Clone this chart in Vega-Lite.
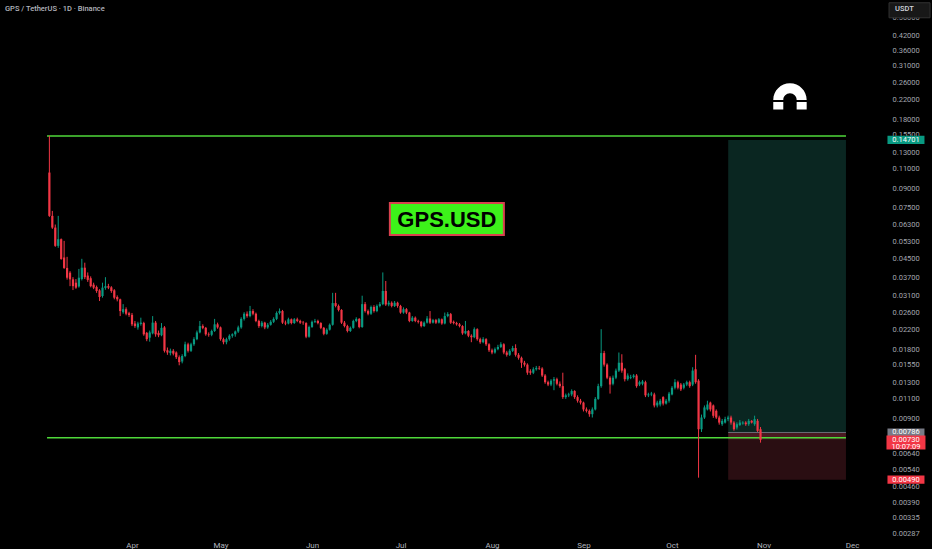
{
  "$schema": "https://vega.github.io/schema/vega-lite/v6.json",
  "description": "GPS / TetherUS daily candles on Binance, log price scale, with a long position box.",
  "width": 932,
  "height": 536,
  "padding": 0,
  "background": "#000000",
  "config": {
    "view": {"stroke": null},
    "font": "Roboto",
    "scale": {"continuousPadding": 0},
    "axisX": {
      "title": null,
      "domain": false,
      "ticks": false,
      "grid": false,
      "labelColor": "#b2b5be",
      "labelFontSize": 8,
      "labelFont": "Roboto",
      "labelPadding": 4,
      "labelFlush": false
    },
    "axisY": {
      "title": null,
      "domain": false,
      "ticks": false,
      "grid": false,
      "labelColor": "#a3a6af",
      "labelFontSize": 7.5,
      "labelFont": "Roboto",
      "labelPadding": 26,
      "labelOverlap": false,
      "labelBound": false
    }
  },
  "data": {
    "values": [
      {"d": "2025-03-04", "o": 0.106, "h": 0.153, "l": 0.068, "c": 0.0687},
      {"d": "2025-03-05", "o": 0.0687, "h": 0.0722, "l": 0.0603, "c": 0.0611},
      {"d": "2025-03-06", "o": 0.0611, "h": 0.063, "l": 0.0504, "c": 0.0509},
      {"d": "2025-03-07", "o": 0.0509, "h": 0.0687, "l": 0.0499, "c": 0.0544},
      {"d": "2025-03-08", "o": 0.0544, "h": 0.0548, "l": 0.0443, "c": 0.0446},
      {"d": "2025-03-09", "o": 0.0453, "h": 0.0535, "l": 0.0404, "c": 0.0408},
      {"d": "2025-03-10", "o": 0.0408, "h": 0.0456, "l": 0.0363, "c": 0.037},
      {"d": "2025-03-11", "o": 0.0389, "h": 0.0395, "l": 0.034, "c": 0.0364},
      {"d": "2025-03-12", "o": 0.0364, "h": 0.0372, "l": 0.0327, "c": 0.034},
      {"d": "2025-03-13", "o": 0.0352, "h": 0.0365, "l": 0.0331, "c": 0.0335},
      {"d": "2025-03-14", "o": 0.0339, "h": 0.0404, "l": 0.0335, "c": 0.037},
      {"d": "2025-03-15", "o": 0.0365, "h": 0.0447, "l": 0.036, "c": 0.0409},
      {"d": "2025-03-16", "o": 0.0409, "h": 0.043, "l": 0.0365, "c": 0.0372},
      {"d": "2025-03-17", "o": 0.0378, "h": 0.039, "l": 0.0355, "c": 0.0362},
      {"d": "2025-03-18", "o": 0.0368, "h": 0.0375, "l": 0.0336, "c": 0.034},
      {"d": "2025-03-19", "o": 0.0345, "h": 0.0352, "l": 0.033, "c": 0.0335},
      {"d": "2025-03-20", "o": 0.0337, "h": 0.0342, "l": 0.0318, "c": 0.0324},
      {"d": "2025-03-21", "o": 0.0326, "h": 0.033, "l": 0.0293, "c": 0.0305},
      {"d": "2025-03-22", "o": 0.0308, "h": 0.0352, "l": 0.0303, "c": 0.0335},
      {"d": "2025-03-23", "o": 0.0334, "h": 0.0372, "l": 0.0328, "c": 0.034},
      {"d": "2025-03-24", "o": 0.034, "h": 0.0348, "l": 0.033, "c": 0.0335},
      {"d": "2025-03-25", "o": 0.0336, "h": 0.034, "l": 0.0318, "c": 0.0324},
      {"d": "2025-03-26", "o": 0.0326, "h": 0.033, "l": 0.0298, "c": 0.0303},
      {"d": "2025-03-27", "o": 0.0305, "h": 0.031, "l": 0.0292, "c": 0.0298},
      {"d": "2025-03-28", "o": 0.0298, "h": 0.03, "l": 0.0252, "c": 0.0265},
      {"d": "2025-03-29", "o": 0.0262, "h": 0.0284, "l": 0.0258, "c": 0.027},
      {"d": "2025-03-30", "o": 0.027, "h": 0.0275, "l": 0.0254, "c": 0.0258},
      {"d": "2025-03-31", "o": 0.0259, "h": 0.0263, "l": 0.025, "c": 0.0255},
      {"d": "2025-04-01", "o": 0.0255, "h": 0.026, "l": 0.0228, "c": 0.0232},
      {"d": "2025-04-02", "o": 0.0234, "h": 0.024, "l": 0.0224, "c": 0.0228},
      {"d": "2025-04-03", "o": 0.0225, "h": 0.0238, "l": 0.022, "c": 0.0234},
      {"d": "2025-04-04", "o": 0.0233, "h": 0.0248, "l": 0.0229, "c": 0.0236},
      {"d": "2025-04-05", "o": 0.0235, "h": 0.0238, "l": 0.0207, "c": 0.021},
      {"d": "2025-04-06", "o": 0.0213, "h": 0.0215, "l": 0.0196, "c": 0.02},
      {"d": "2025-04-07", "o": 0.0203, "h": 0.0218, "l": 0.0195, "c": 0.0214},
      {"d": "2025-04-08", "o": 0.0212, "h": 0.0252, "l": 0.021, "c": 0.0236},
      {"d": "2025-04-09", "o": 0.0236, "h": 0.024, "l": 0.0205, "c": 0.021},
      {"d": "2025-04-10", "o": 0.0213, "h": 0.0218, "l": 0.0204, "c": 0.0208},
      {"d": "2025-04-11", "o": 0.0208, "h": 0.0235, "l": 0.0206, "c": 0.0224},
      {"d": "2025-04-12", "o": 0.0225, "h": 0.0228, "l": 0.0175, "c": 0.0178},
      {"d": "2025-04-13", "o": 0.0179, "h": 0.0184, "l": 0.0171, "c": 0.0175},
      {"d": "2025-04-14", "o": 0.0174, "h": 0.0182, "l": 0.017, "c": 0.0178},
      {"d": "2025-04-15", "o": 0.0178, "h": 0.0181, "l": 0.017, "c": 0.0173},
      {"d": "2025-04-16", "o": 0.0175, "h": 0.0177, "l": 0.0164, "c": 0.0167},
      {"d": "2025-04-17", "o": 0.0167, "h": 0.017, "l": 0.0154, "c": 0.0159},
      {"d": "2025-04-18", "o": 0.016, "h": 0.0172, "l": 0.0157, "c": 0.0169},
      {"d": "2025-04-19", "o": 0.0169, "h": 0.0195, "l": 0.0167, "c": 0.019},
      {"d": "2025-04-20", "o": 0.019, "h": 0.0193, "l": 0.0175, "c": 0.0178},
      {"d": "2025-04-21", "o": 0.0178, "h": 0.0193, "l": 0.0176, "c": 0.019},
      {"d": "2025-04-22", "o": 0.019, "h": 0.0204, "l": 0.0187, "c": 0.02},
      {"d": "2025-04-23", "o": 0.02, "h": 0.0218, "l": 0.0198, "c": 0.0214},
      {"d": "2025-04-24", "o": 0.0214, "h": 0.024, "l": 0.0212, "c": 0.0228},
      {"d": "2025-04-25", "o": 0.0228, "h": 0.0232, "l": 0.0221, "c": 0.0224},
      {"d": "2025-04-26", "o": 0.0224, "h": 0.0226, "l": 0.0207, "c": 0.021},
      {"d": "2025-04-27", "o": 0.021, "h": 0.0214, "l": 0.0205, "c": 0.0209},
      {"d": "2025-04-28", "o": 0.0209, "h": 0.022, "l": 0.0206, "c": 0.0217},
      {"d": "2025-04-29", "o": 0.0217, "h": 0.0245, "l": 0.0215, "c": 0.0232},
      {"d": "2025-04-30", "o": 0.0232, "h": 0.0236, "l": 0.0222, "c": 0.0225},
      {"d": "2025-05-01", "o": 0.0225, "h": 0.0227, "l": 0.0197, "c": 0.02},
      {"d": "2025-05-02", "o": 0.02, "h": 0.0203, "l": 0.019, "c": 0.0194},
      {"d": "2025-05-03", "o": 0.0194, "h": 0.0203, "l": 0.019, "c": 0.02},
      {"d": "2025-05-04", "o": 0.02, "h": 0.021, "l": 0.0197, "c": 0.0207},
      {"d": "2025-05-05", "o": 0.0207, "h": 0.0212, "l": 0.0203, "c": 0.021},
      {"d": "2025-05-06", "o": 0.021, "h": 0.0218, "l": 0.0205, "c": 0.0216},
      {"d": "2025-05-07", "o": 0.0216, "h": 0.0229, "l": 0.0213, "c": 0.0225},
      {"d": "2025-05-08", "o": 0.0225, "h": 0.0249, "l": 0.0222, "c": 0.0245},
      {"d": "2025-05-09", "o": 0.0245, "h": 0.0262, "l": 0.0241, "c": 0.0258},
      {"d": "2025-05-10", "o": 0.0258, "h": 0.0264, "l": 0.0248, "c": 0.0252},
      {"d": "2025-05-11", "o": 0.0252, "h": 0.0279, "l": 0.0249, "c": 0.0265},
      {"d": "2025-05-12", "o": 0.0265, "h": 0.027, "l": 0.0254, "c": 0.0258},
      {"d": "2025-05-13", "o": 0.0258, "h": 0.0261, "l": 0.0237, "c": 0.024},
      {"d": "2025-05-14", "o": 0.024, "h": 0.0243, "l": 0.0224, "c": 0.0228},
      {"d": "2025-05-15", "o": 0.0228, "h": 0.024, "l": 0.0225, "c": 0.0236},
      {"d": "2025-05-16", "o": 0.0236, "h": 0.0238, "l": 0.0221, "c": 0.0225},
      {"d": "2025-05-17", "o": 0.0225, "h": 0.0235, "l": 0.0222, "c": 0.0231},
      {"d": "2025-05-18", "o": 0.0231, "h": 0.0242, "l": 0.0229, "c": 0.0238},
      {"d": "2025-05-19", "o": 0.0238, "h": 0.0249, "l": 0.0235, "c": 0.0245},
      {"d": "2025-05-20", "o": 0.0245, "h": 0.0264, "l": 0.0242, "c": 0.026},
      {"d": "2025-05-21", "o": 0.026, "h": 0.0272, "l": 0.0256, "c": 0.0265},
      {"d": "2025-05-22", "o": 0.0265, "h": 0.0268, "l": 0.0233, "c": 0.0236},
      {"d": "2025-05-23", "o": 0.0236, "h": 0.0241, "l": 0.023, "c": 0.0234},
      {"d": "2025-05-24", "o": 0.0234, "h": 0.0248, "l": 0.0232, "c": 0.0244},
      {"d": "2025-05-25", "o": 0.0244, "h": 0.0246, "l": 0.0232, "c": 0.0235},
      {"d": "2025-05-26", "o": 0.0235, "h": 0.0247, "l": 0.0233, "c": 0.0244},
      {"d": "2025-05-27", "o": 0.0244, "h": 0.0248, "l": 0.0237, "c": 0.024},
      {"d": "2025-05-28", "o": 0.024, "h": 0.0243, "l": 0.0233, "c": 0.0236},
      {"d": "2025-05-29", "o": 0.0236, "h": 0.024, "l": 0.0231, "c": 0.0235},
      {"d": "2025-05-30", "o": 0.0235, "h": 0.0237, "l": 0.0202, "c": 0.0205},
      {"d": "2025-05-31", "o": 0.0205, "h": 0.0229, "l": 0.0203, "c": 0.0226},
      {"d": "2025-06-01", "o": 0.0226, "h": 0.0241, "l": 0.0224, "c": 0.0238},
      {"d": "2025-06-02", "o": 0.0238, "h": 0.0245, "l": 0.0235, "c": 0.024},
      {"d": "2025-06-03", "o": 0.024, "h": 0.0243, "l": 0.0232, "c": 0.0235},
      {"d": "2025-06-04", "o": 0.0235, "h": 0.0237, "l": 0.0221, "c": 0.0224},
      {"d": "2025-06-05", "o": 0.0224, "h": 0.0226, "l": 0.0208, "c": 0.0211},
      {"d": "2025-06-06", "o": 0.0211, "h": 0.0223, "l": 0.0209, "c": 0.022},
      {"d": "2025-06-07", "o": 0.022, "h": 0.0234, "l": 0.0218, "c": 0.0231},
      {"d": "2025-06-08", "o": 0.0231, "h": 0.0318, "l": 0.0229, "c": 0.0287},
      {"d": "2025-06-09", "o": 0.0287, "h": 0.0318, "l": 0.0275, "c": 0.0279},
      {"d": "2025-06-10", "o": 0.0279, "h": 0.0283, "l": 0.0264, "c": 0.0268},
      {"d": "2025-06-11", "o": 0.0268, "h": 0.027, "l": 0.0233, "c": 0.0236},
      {"d": "2025-06-12", "o": 0.0236, "h": 0.024, "l": 0.0225, "c": 0.0228},
      {"d": "2025-06-13", "o": 0.0228, "h": 0.0231, "l": 0.0214, "c": 0.0217},
      {"d": "2025-06-14", "o": 0.0217, "h": 0.0227, "l": 0.0215, "c": 0.0224},
      {"d": "2025-06-15", "o": 0.0224, "h": 0.0243, "l": 0.0222, "c": 0.024},
      {"d": "2025-06-16", "o": 0.024, "h": 0.0249, "l": 0.0237, "c": 0.0245},
      {"d": "2025-06-17", "o": 0.0245, "h": 0.0247, "l": 0.0223, "c": 0.0226},
      {"d": "2025-06-18", "o": 0.0226, "h": 0.0309, "l": 0.0224, "c": 0.0284},
      {"d": "2025-06-19", "o": 0.0284, "h": 0.029, "l": 0.0261, "c": 0.0265},
      {"d": "2025-06-20", "o": 0.0265, "h": 0.0269, "l": 0.0254, "c": 0.0258},
      {"d": "2025-06-21", "o": 0.0258, "h": 0.028, "l": 0.0255, "c": 0.0276},
      {"d": "2025-06-22", "o": 0.0276, "h": 0.0281, "l": 0.0261, "c": 0.0265},
      {"d": "2025-06-23", "o": 0.0265, "h": 0.0283, "l": 0.0262, "c": 0.0279},
      {"d": "2025-06-24", "o": 0.0279, "h": 0.029, "l": 0.0275, "c": 0.0284},
      {"d": "2025-06-25", "o": 0.0284, "h": 0.039, "l": 0.0281, "c": 0.0324},
      {"d": "2025-06-26", "o": 0.0324, "h": 0.0358, "l": 0.0279, "c": 0.0283},
      {"d": "2025-06-27", "o": 0.0283, "h": 0.0294, "l": 0.0278, "c": 0.0288},
      {"d": "2025-06-28", "o": 0.0288, "h": 0.0292, "l": 0.0275, "c": 0.0279},
      {"d": "2025-06-29", "o": 0.0279, "h": 0.0293, "l": 0.0276, "c": 0.0288},
      {"d": "2025-06-30", "o": 0.0288, "h": 0.0291, "l": 0.0274, "c": 0.0279},
      {"d": "2025-07-01", "o": 0.0279, "h": 0.0282, "l": 0.0258, "c": 0.0261},
      {"d": "2025-07-02", "o": 0.0261, "h": 0.0275, "l": 0.0258, "c": 0.027},
      {"d": "2025-07-03", "o": 0.027, "h": 0.0273, "l": 0.0257, "c": 0.0261},
      {"d": "2025-07-04", "o": 0.0261, "h": 0.0263, "l": 0.0237, "c": 0.024},
      {"d": "2025-07-05", "o": 0.024, "h": 0.0252, "l": 0.0238, "c": 0.0248},
      {"d": "2025-07-06", "o": 0.0248, "h": 0.0251, "l": 0.0237, "c": 0.024},
      {"d": "2025-07-07", "o": 0.024, "h": 0.0243, "l": 0.0234, "c": 0.0238},
      {"d": "2025-07-08", "o": 0.0238, "h": 0.024, "l": 0.0225, "c": 0.0228},
      {"d": "2025-07-09", "o": 0.0228, "h": 0.0239, "l": 0.0226, "c": 0.0236},
      {"d": "2025-07-10", "o": 0.0236, "h": 0.0252, "l": 0.0234, "c": 0.0246},
      {"d": "2025-07-11", "o": 0.0246, "h": 0.0265, "l": 0.0233, "c": 0.0236},
      {"d": "2025-07-12", "o": 0.0236, "h": 0.0245, "l": 0.0234, "c": 0.0242},
      {"d": "2025-07-13", "o": 0.0242, "h": 0.0245, "l": 0.0233, "c": 0.0236},
      {"d": "2025-07-14", "o": 0.0236, "h": 0.0247, "l": 0.0234, "c": 0.0244},
      {"d": "2025-07-15", "o": 0.0244, "h": 0.0246, "l": 0.0231, "c": 0.0234},
      {"d": "2025-07-16", "o": 0.0234, "h": 0.0261, "l": 0.0232, "c": 0.0252},
      {"d": "2025-07-17", "o": 0.0252, "h": 0.0262, "l": 0.0249, "c": 0.0257},
      {"d": "2025-07-18", "o": 0.0257, "h": 0.026, "l": 0.0233, "c": 0.0236},
      {"d": "2025-07-19", "o": 0.0238, "h": 0.0241, "l": 0.0232, "c": 0.0235},
      {"d": "2025-07-20", "o": 0.0235, "h": 0.0238, "l": 0.0229, "c": 0.0232},
      {"d": "2025-07-21", "o": 0.0232, "h": 0.0235, "l": 0.0225, "c": 0.0228},
      {"d": "2025-07-22", "o": 0.0228, "h": 0.023, "l": 0.0209, "c": 0.0212},
      {"d": "2025-07-23", "o": 0.0212, "h": 0.024, "l": 0.021, "c": 0.0217},
      {"d": "2025-07-24", "o": 0.0217, "h": 0.0219, "l": 0.0204, "c": 0.0207},
      {"d": "2025-07-25", "o": 0.0207, "h": 0.021, "l": 0.0194, "c": 0.0204},
      {"d": "2025-07-26", "o": 0.0204, "h": 0.0225, "l": 0.0202, "c": 0.0221},
      {"d": "2025-07-27", "o": 0.0221, "h": 0.0223, "l": 0.0197, "c": 0.02},
      {"d": "2025-07-28", "o": 0.02, "h": 0.0203, "l": 0.0191, "c": 0.0194},
      {"d": "2025-07-29", "o": 0.0194, "h": 0.0204, "l": 0.0192, "c": 0.02},
      {"d": "2025-07-30", "o": 0.02, "h": 0.0202, "l": 0.0187, "c": 0.019},
      {"d": "2025-07-31", "o": 0.019, "h": 0.0192, "l": 0.0176, "c": 0.0179},
      {"d": "2025-08-01", "o": 0.0179, "h": 0.0182, "l": 0.0172, "c": 0.0175},
      {"d": "2025-08-02", "o": 0.0175, "h": 0.0184, "l": 0.0173, "c": 0.0181},
      {"d": "2025-08-03", "o": 0.0181, "h": 0.0189, "l": 0.0179, "c": 0.0185},
      {"d": "2025-08-04", "o": 0.0185, "h": 0.0194, "l": 0.0183, "c": 0.019},
      {"d": "2025-08-05", "o": 0.019, "h": 0.0192, "l": 0.0172, "c": 0.0175},
      {"d": "2025-08-06", "o": 0.0175, "h": 0.0178, "l": 0.0168, "c": 0.0171},
      {"d": "2025-08-07", "o": 0.0171, "h": 0.0181, "l": 0.0169, "c": 0.0178},
      {"d": "2025-08-08", "o": 0.0178, "h": 0.0187, "l": 0.0176, "c": 0.0183},
      {"d": "2025-08-09", "o": 0.0183, "h": 0.019, "l": 0.0168, "c": 0.0171},
      {"d": "2025-08-10", "o": 0.0171, "h": 0.0174, "l": 0.0163, "c": 0.0166},
      {"d": "2025-08-11", "o": 0.0166, "h": 0.0168, "l": 0.015, "c": 0.0158},
      {"d": "2025-08-12", "o": 0.0158, "h": 0.0161, "l": 0.0152, "c": 0.0155},
      {"d": "2025-08-13", "o": 0.0155, "h": 0.0157, "l": 0.014, "c": 0.0143},
      {"d": "2025-08-14", "o": 0.0145, "h": 0.0148, "l": 0.014, "c": 0.0143},
      {"d": "2025-08-15", "o": 0.0143, "h": 0.0151, "l": 0.0141, "c": 0.0148},
      {"d": "2025-08-16", "o": 0.0148, "h": 0.0153, "l": 0.0146, "c": 0.015},
      {"d": "2025-08-17", "o": 0.015, "h": 0.0153, "l": 0.0147, "c": 0.0149},
      {"d": "2025-08-18", "o": 0.0149, "h": 0.0151, "l": 0.0137, "c": 0.0139},
      {"d": "2025-08-19", "o": 0.0139, "h": 0.0141, "l": 0.0128, "c": 0.013},
      {"d": "2025-08-20", "o": 0.013, "h": 0.0132, "l": 0.0125, "c": 0.0127},
      {"d": "2025-08-21", "o": 0.0127, "h": 0.0134, "l": 0.0125, "c": 0.0132},
      {"d": "2025-08-22", "o": 0.0132, "h": 0.0137, "l": 0.012, "c": 0.0134},
      {"d": "2025-08-23", "o": 0.0134, "h": 0.0136, "l": 0.0126, "c": 0.0128},
      {"d": "2025-08-24", "o": 0.0128, "h": 0.0131, "l": 0.0123, "c": 0.0125},
      {"d": "2025-08-25", "o": 0.0125, "h": 0.0143, "l": 0.011, "c": 0.0112},
      {"d": "2025-08-26", "o": 0.0112, "h": 0.0116, "l": 0.011, "c": 0.0114},
      {"d": "2025-08-27", "o": 0.0114, "h": 0.0117, "l": 0.0112, "c": 0.0115},
      {"d": "2025-08-28", "o": 0.0115, "h": 0.0121, "l": 0.0113, "c": 0.0119},
      {"d": "2025-08-29", "o": 0.0119, "h": 0.012, "l": 0.011, "c": 0.0112},
      {"d": "2025-08-30", "o": 0.0112, "h": 0.0114, "l": 0.0106, "c": 0.0108},
      {"d": "2025-08-31", "o": 0.0108, "h": 0.011, "l": 0.0104, "c": 0.0106},
      {"d": "2025-09-01", "o": 0.0106, "h": 0.0107, "l": 0.0097, "c": 0.0099},
      {"d": "2025-09-02", "o": 0.0099, "h": 0.0101, "l": 0.0096, "c": 0.00976},
      {"d": "2025-09-03", "o": 0.00976, "h": 0.0099, "l": 0.0092, "c": 0.00944},
      {"d": "2025-09-04", "o": 0.00944, "h": 0.0101, "l": 0.00913, "c": 0.0099},
      {"d": "2025-09-05", "o": 0.0099, "h": 0.0112, "l": 0.0098, "c": 0.011},
      {"d": "2025-09-06", "o": 0.011, "h": 0.0128, "l": 0.0109, "c": 0.0125},
      {"d": "2025-09-07", "o": 0.0125, "h": 0.0221, "l": 0.0123, "c": 0.0174},
      {"d": "2025-09-08", "o": 0.0174, "h": 0.0178, "l": 0.0152, "c": 0.0155},
      {"d": "2025-09-09", "o": 0.0155, "h": 0.0157, "l": 0.0134, "c": 0.0136},
      {"d": "2025-09-10", "o": 0.0136, "h": 0.0138, "l": 0.0116, "c": 0.0127},
      {"d": "2025-09-11", "o": 0.0128, "h": 0.0139, "l": 0.0126, "c": 0.0136},
      {"d": "2025-09-12", "o": 0.0136, "h": 0.0149, "l": 0.0134, "c": 0.0146},
      {"d": "2025-09-13", "o": 0.0146, "h": 0.0175, "l": 0.0144, "c": 0.0158},
      {"d": "2025-09-14", "o": 0.0158, "h": 0.0172, "l": 0.0143, "c": 0.0146},
      {"d": "2025-09-15", "o": 0.0148, "h": 0.015, "l": 0.0131, "c": 0.0134},
      {"d": "2025-09-16", "o": 0.0134, "h": 0.0142, "l": 0.0132, "c": 0.0139},
      {"d": "2025-09-17", "o": 0.0136, "h": 0.014, "l": 0.0134, "c": 0.0137},
      {"d": "2025-09-18", "o": 0.0137, "h": 0.0141, "l": 0.0135, "c": 0.0139},
      {"d": "2025-09-19", "o": 0.0139, "h": 0.0141, "l": 0.0123, "c": 0.0125},
      {"d": "2025-09-20", "o": 0.0127, "h": 0.0132, "l": 0.0125, "c": 0.013},
      {"d": "2025-09-21", "o": 0.0128, "h": 0.0133, "l": 0.0126, "c": 0.0131},
      {"d": "2025-09-22", "o": 0.013, "h": 0.0132, "l": 0.0112, "c": 0.0114},
      {"d": "2025-09-23", "o": 0.0114, "h": 0.0117, "l": 0.0112, "c": 0.0115},
      {"d": "2025-09-24", "o": 0.0115, "h": 0.0118, "l": 0.0113, "c": 0.0116},
      {"d": "2025-09-25", "o": 0.0115, "h": 0.0117, "l": 0.0101, "c": 0.0103},
      {"d": "2025-09-26", "o": 0.0103, "h": 0.0108, "l": 0.0101, "c": 0.0106},
      {"d": "2025-09-27", "o": 0.0104, "h": 0.011, "l": 0.0102, "c": 0.0108},
      {"d": "2025-09-28", "o": 0.0112, "h": 0.0113, "l": 0.0103, "c": 0.0105},
      {"d": "2025-09-29", "o": 0.0105, "h": 0.011, "l": 0.0104, "c": 0.0108},
      {"d": "2025-09-30", "o": 0.0108, "h": 0.0118, "l": 0.0106, "c": 0.0116},
      {"d": "2025-10-01", "o": 0.0115, "h": 0.0125, "l": 0.0114, "c": 0.0123},
      {"d": "2025-10-02", "o": 0.0123, "h": 0.0134, "l": 0.0121, "c": 0.013},
      {"d": "2025-10-03", "o": 0.013, "h": 0.0132, "l": 0.0121, "c": 0.0123},
      {"d": "2025-10-04", "o": 0.0127, "h": 0.0129, "l": 0.0119, "c": 0.0121},
      {"d": "2025-10-05", "o": 0.0123, "h": 0.0129, "l": 0.0121, "c": 0.0127},
      {"d": "2025-10-06", "o": 0.0127, "h": 0.0132, "l": 0.0125, "c": 0.013},
      {"d": "2025-10-07", "o": 0.013, "h": 0.0132, "l": 0.0123, "c": 0.0125},
      {"d": "2025-10-08", "o": 0.0127, "h": 0.0151, "l": 0.0125, "c": 0.0146},
      {"d": "2025-10-09", "o": 0.0148, "h": 0.0171, "l": 0.0128, "c": 0.013},
      {"d": "2025-10-10", "o": 0.0132, "h": 0.0134, "l": 0.005, "c": 0.00812},
      {"d": "2025-10-11", "o": 0.00812, "h": 0.0094, "l": 0.0079, "c": 0.00913},
      {"d": "2025-10-12", "o": 0.00913, "h": 0.0103, "l": 0.009, "c": 0.0101},
      {"d": "2025-10-13", "o": 0.0099, "h": 0.0108, "l": 0.0098, "c": 0.0104},
      {"d": "2025-10-14", "o": 0.0106, "h": 0.0107, "l": 0.0097, "c": 0.0099},
      {"d": "2025-10-15", "o": 0.0103, "h": 0.0104, "l": 0.0091, "c": 0.00929},
      {"d": "2025-10-16", "o": 0.00976, "h": 0.0099, "l": 0.009, "c": 0.00913},
      {"d": "2025-10-17", "o": 0.00913, "h": 0.0093, "l": 0.0085, "c": 0.00868},
      {"d": "2025-10-18", "o": 0.00854, "h": 0.009, "l": 0.0084, "c": 0.00883},
      {"d": "2025-10-19", "o": 0.00868, "h": 0.0092, "l": 0.0086, "c": 0.00898},
      {"d": "2025-10-20", "o": 0.00898, "h": 0.0093, "l": 0.0088, "c": 0.00913},
      {"d": "2025-10-21", "o": 0.00913, "h": 0.0093, "l": 0.0085, "c": 0.00868},
      {"d": "2025-10-22", "o": 0.00868, "h": 0.0088, "l": 0.008, "c": 0.00812},
      {"d": "2025-10-23", "o": 0.00826, "h": 0.0087, "l": 0.0081, "c": 0.00854},
      {"d": "2025-10-24", "o": 0.00846, "h": 0.0089, "l": 0.0084, "c": 0.00868},
      {"d": "2025-10-25", "o": 0.0086, "h": 0.0088, "l": 0.0085, "c": 0.00868},
      {"d": "2025-10-26", "o": 0.00868, "h": 0.0088, "l": 0.0084, "c": 0.00854},
      {"d": "2025-10-27", "o": 0.00854, "h": 0.009, "l": 0.0084, "c": 0.00883},
      {"d": "2025-10-28", "o": 0.00883, "h": 0.0089, "l": 0.0086, "c": 0.00868},
      {"d": "2025-10-29", "o": 0.00854, "h": 0.0093, "l": 0.0084, "c": 0.00898},
      {"d": "2025-10-30", "o": 0.00883, "h": 0.009, "l": 0.0079, "c": 0.00799},
      {"d": "2025-10-31", "o": 0.00812, "h": 0.0083, "l": 0.0071, "c": 0.0073}
    ]
  },
  "layer": [
    {
      "data": {
        "values": [
          {"start": "2025-10-20T01:00:00Z", "end": "2025-11-28T23:00:00Z", "top": 0.14701, "bottom": 0.00786, "zone": "profit"},
          {"start": "2025-10-20T01:00:00Z", "end": "2025-11-28T23:00:00Z", "top": 0.00786, "bottom": 0.0073, "zone": "open"},
          {"start": "2025-10-20T01:00:00Z", "end": "2025-11-28T23:00:00Z", "top": 0.0073, "bottom": 0.0049, "zone": "loss"}
        ]
      },
      "mark": {"type": "rect"},
      "encoding": {
        "x": {
          "field": "start",
          "type": "temporal",
          "title": null,
          "scale": {
            "type": "utc",
            "domain": [
              {"year": 2025, "month": 2, "date": 15, "hours": 6, "minutes": 24, "utc": true},
              {"year": 2025, "month": 12, "date": 28, "hours": 2, "minutes": 40, "utc": true}
            ]
          },
          "axis": {
            "values": [
              {"year": 2025, "month": 4, "date": 1, "utc": true},
              {"year": 2025, "month": 5, "date": 1, "utc": true},
              {"year": 2025, "month": 6, "date": 1, "utc": true},
              {"year": 2025, "month": 7, "date": 1, "utc": true},
              {"year": 2025, "month": 8, "date": 1, "utc": true},
              {"year": 2025, "month": 9, "date": 1, "utc": true},
              {"year": 2025, "month": 10, "date": 1, "utc": true},
              {"year": 2025, "month": 11, "date": 1, "utc": true},
              {"year": 2025, "month": 12, "date": 1, "utc": true}
            ],
            "labelExpr": "utcFormat(datum.value, '%b')"
          }
        },
        "x2": {"field": "end"},
        "y": {
          "field": "top",
          "type": "quantitative",
          "title": null,
          "scale": {"type": "log", "domain": [0.002761, 0.5903], "nice": false, "zero": false},
          "axis": {
            "orient": "right",
            "offset": -66,
            "values": [0.5, 0.42, 0.36, 0.31, 0.26, 0.22, 0.18, 0.155, 0.13, 0.11, 0.09, 0.075, 0.063, 0.053, 0.045, 0.037, 0.031, 0.026, 0.022, 0.018, 0.0155, 0.013, 0.011, 0.009, 0.0064, 0.0054, 0.0046, 0.0039, 0.00335, 0.00287],
            "format": ".5f"
          }
        },
        "y2": {"field": "bottom"},
        "color": {
          "field": "zone",
          "type": "nominal",
          "scale": {"domain": ["profit", "open", "loss"], "range": ["#0a2621", "#4a1a21", "#2a0e12"]},
          "legend": null
        }
      }
    },
    {
      "data": {"values": [{"start": "2025-10-20T01:00:00Z", "end": "2025-11-28T23:00:00Z", "level": 0.00786}]},
      "mark": {"type": "rule", "color": "#6b6e78", "strokeWidth": 1},
      "encoding": {
        "x": {"field": "start", "type": "temporal"},
        "x2": {"field": "end"},
        "y": {"field": "level", "type": "quantitative"}
      }
    },
    {
      "data": {
        "values": [
          {"start": "2025-03-03T05:00:00Z", "end": "2025-11-28T23:00:00Z", "level": 0.1528},
          {"start": "2025-03-03T05:00:00Z", "end": "2025-11-28T23:00:00Z", "level": 0.00746}
        ]
      },
      "mark": {"type": "rule", "color": "#4fd93a", "strokeWidth": 1.5},
      "encoding": {
        "x": {"field": "start", "type": "temporal"},
        "x2": {"field": "end"},
        "y": {"field": "level", "type": "quantitative"}
      }
    },
    {
      "mark": {"type": "rule", "strokeWidth": 1},
      "encoding": {
        "x": {"field": "d", "type": "temporal"},
        "y": {"field": "l", "type": "quantitative"},
        "y2": {"field": "h"},
        "color": {"condition": {"test": "datum.c >= datum.o", "value": "#089981"}, "value": "#f23645"}
      }
    },
    {
      "mark": {"type": "bar", "size": 2.2},
      "encoding": {
        "x": {"field": "d", "type": "temporal"},
        "y": {"field": "o", "type": "quantitative"},
        "y2": {"field": "c"},
        "color": {"condition": {"test": "datum.c >= datum.o", "value": "#089981"}, "value": "#f23645"}
      }
    },
    {
      "data": {"values": [{"label": "GPS.USD"}]},
      "mark": {"type": "point", "shape": "M-1,-0.281H1V0.281H-1Z", "size": 12996, "filled": true, "fill": "#3df21a", "stroke": "#d8414e", "strokeWidth": 2, "opacity": 1},
      "encoding": {
        "x": {"datum": {"year": 2025, "month": 7, "date": 16, "hours": 17, "utc": true}, "type": "temporal"},
        "y": {"datum": 0.0666, "type": "quantitative"}
      }
    },
    {
      "data": {"values": [{"label": "GPS.USD"}]},
      "mark": {"type": "text", "font": "Liberation Sans", "fontSize": 22, "fontWeight": "bold", "color": "#000000", "align": "center", "baseline": "middle", "dy": 1},
      "encoding": {
        "x": {"datum": {"year": 2025, "month": 7, "date": 16, "hours": 17, "utc": true}, "type": "temporal"},
        "y": {"datum": 0.0666, "type": "quantitative"},
        "text": {"field": "label", "type": "nominal"}
      }
    },
    {
      "data": {"values": [{"icon": "magnet"}]},
      "mark": {"type": "point", "shape": "M-1,-0.06A1,1 0 0 1 1,-0.06H0.4A0.4,0.4 0 0 0 -0.4,-0.06Z M-1,0.06H-0.4V0.5H-1Z M0.4,0.06H1V0.5H0.4Z", "size": 1116, "filled": true, "fill": "#ffffff", "opacity": 1, "strokeWidth": 0},
      "encoding": {
        "x": {"datum": {"year": 2025, "month": 11, "date": 9, "hours": 23, "minutes": 30, "utc": true}, "type": "temporal"},
        "y": {"datum": 0.2169, "type": "quantitative"}
      }
    },
    {
      "data": {
        "values": [
          {"price": 0.14701, "label": "0.14701", "kind": "target"},
          {"price": 0.00786, "label": "0.00786", "kind": "entry"},
          {"price": 0.0049, "label": "0.00490", "kind": "stop"}
        ]
      },
      "mark": {"type": "point", "shape": "M-1,-0.22H1V0.22H-1Z", "size": 1369, "filled": true, "opacity": 1, "strokeWidth": 0},
      "encoding": {
        "x": {"datum": {"year": 2025, "month": 12, "date": 19, "hours": 7, "utc": true}, "type": "temporal"},
        "y": {"field": "price", "type": "quantitative"},
        "fill": {
          "field": "kind",
          "type": "nominal",
          "scale": {"domain": ["target", "entry", "stop"], "range": ["#089981", "#787b86", "#f23645"]},
          "legend": null
        }
      }
    },
    {
      "data": {"values": [{"price": 0.0073, "label": ["0.00730", "10:07:09"]}]},
      "mark": {"type": "point", "shape": "M-1,-0.23H1V0.49H-1Z", "size": 1521, "filled": true, "fill": "#f23645", "opacity": 1, "strokeWidth": 0},
      "encoding": {
        "x": {"datum": {"year": 2025, "month": 12, "date": 19, "hours": 7, "utc": true}, "type": "temporal"},
        "y": {"field": "price", "type": "quantitative"}
      }
    },
    {
      "data": {
        "values": [
          {"price": 0.14701, "label": "0.14701"},
          {"price": 0.00786, "label": "0.00786"},
          {"price": 0.0049, "label": "0.00490"}
        ]
      },
      "mark": {"type": "text", "font": "Roboto", "fontSize": 7.5, "color": "#ffffff", "align": "center", "baseline": "middle"},
      "encoding": {
        "x": {"datum": {"year": 2025, "month": 12, "date": 19, "hours": 7, "utc": true}, "type": "temporal"},
        "y": {"field": "price", "type": "quantitative"},
        "text": {"field": "label", "type": "nominal"}
      }
    },
    {
      "data": {"values": [{"price": 0.0073, "label": ["0.00730", "10:07:09"]}]},
      "mark": {"type": "text", "font": "Roboto", "fontSize": 7.5, "lineHeight": 7.5, "color": "#ffffff", "align": "center", "baseline": "middle", "dy": 0},
      "encoding": {
        "x": {"datum": {"year": 2025, "month": 12, "date": 19, "hours": 7, "utc": true}, "type": "temporal"},
        "y": {"field": "price", "type": "quantitative"},
        "text": {"field": "label", "type": "nominal"}
      }
    },
    {
      "data": {"values": [{"label": "USDT"}]},
      "mark": {"type": "point", "shape": "M-1,-0.366H1V0.366H-1Z", "size": 1681, "filled": true, "fill": "#181818", "stroke": "#333333", "strokeWidth": 1, "opacity": 1},
      "encoding": {
        "x": {"datum": {"year": 2025, "month": 12, "date": 20, "hours": 12, "utc": true}, "type": "temporal"},
        "y": {"datum": 0.538, "type": "quantitative"}
      }
    },
    {
      "data": {"values": [{"label": "USDT"}]},
      "mark": {"type": "text", "font": "Roboto", "fontSize": 7.5, "fontWeight": 500, "color": "#d1d4dc", "align": "left", "baseline": "middle"},
      "encoding": {
        "x": {"datum": {"year": 2025, "month": 12, "date": 15, "hours": 14, "utc": true}, "type": "temporal"},
        "y": {"datum": 0.545, "type": "quantitative"},
        "text": {"field": "label", "type": "nominal"}
      }
    },
    {
      "data": {"values": [{"label": "GPS / TetherUS · 1D · Binance"}]},
      "mark": {"type": "text", "font": "Roboto", "fontSize": 7.5, "fontWeight": 500, "color": "#b2b5be", "align": "left", "baseline": "middle"},
      "encoding": {
        "x": {"datum": {"year": 2025, "month": 2, "date": 16, "hours": 23, "utc": true}, "type": "temporal"},
        "y": {"datum": 0.545, "type": "quantitative"},
        "text": {"field": "label", "type": "nominal"}
      }
    }
  ]
}
